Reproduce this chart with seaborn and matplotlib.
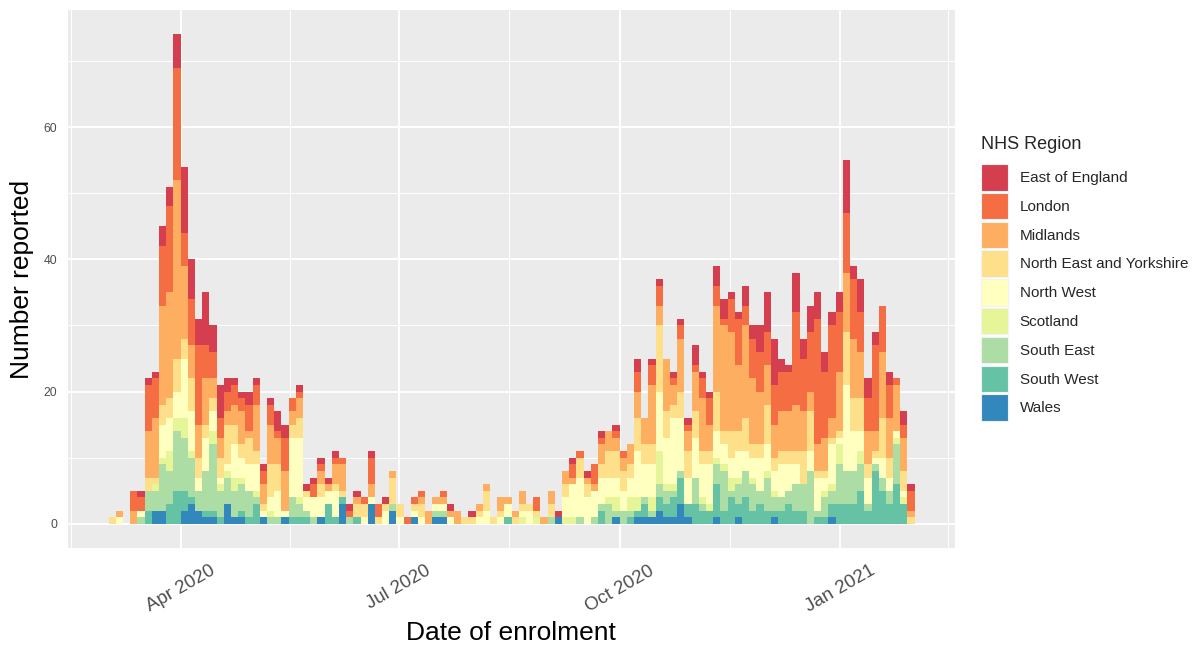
import datetime as dt

import matplotlib
matplotlib.use("Agg")
import matplotlib.dates as mdates
import matplotlib.pyplot as plt
from matplotlib.patches import Patch
import numpy as np
import pandas as pd
import seaborn as sns

REGIONS = ["East of England", "London", "Midlands", "North East and Yorkshire",
           "North West", "Scotland", "South East", "South West", "Wales"]
COLORS = ["#D53E4F", "#F46D43", "#FDAE61", "#FEE08B", "#FFFFBF",
          "#E6F598", "#ABDDA4", "#66C2A5", "#3288BD"]

FIRST_BIN = dt.date(2020, 3, 2)
BIN_DAYS = 3
MAJOR_DATES = [dt.date(2020, 4, 1), dt.date(2020, 7, 1),
               dt.date(2020, 10, 1), dt.date(2021, 1, 1)]

# enrolments per 3-day bin (112 bins)
east_of_england = [
    0, 0, 0, 0, 1, 1, 1, 3, 3, 5,
    10, 6, 4, 8, 4, 5, 2, 1, 1, 2,
    1, 1, 1, 3, 2, 0, 1, 1, 1, 1,
    1, 1, 0, 1, 1, 0, 1, 0, 1, 0,
    0, 0, 0, 0, 0, 0, 0, 1, 0, 0,
    1, 0, 0, 0, 0, 0, 0, 0, 0, 0,
    0, 0, 1, 0, 1, 0, 1, 0, 1, 0,
    1, 0, 0, 2, 0, 1, 1, 0, 1, 1,
    1, 3, 1, 1, 3, 3, 1, 1, 3, 2,
    4, 6, 7, 2, 1, 6, 3, 4, 4, 3,
    2, 3, 8, 2, 5, 3, 2, 0, 2, 0,
    2, 1]
london = [
    0, 0, 0, 3, 2, 7, 6, 9, 13, 17,
    5, 7, 12, 5, 4, 3, 3, 3, 2, 4,
    3, 2, 3, 1, 5, 2, 1, 0, 2, 1,
    0, 1, 1, 1, 0, 1, 4, 2, 0, 0,
    0, 1, 1, 1, 0, 0, 1, 0, 0, 0,
    0, 0, 0, 0, 0, 0, 0, 0, 0, 2,
    0, 0, 0, 0, 2, 1, 0, 3, 1, 0,
    1, 1, 0, 3, 0, 3, 3, 0, 1, 2,
    1, 1, 3, 4, 3, 1, 5, 7, 3, 6,
    6, 5, 6, 6, 6, 14, 8, 9, 19, 10,
    14, 9, 9, 9, 6, 5, 13, 7, 5, 1,
    2, 3]
midlands = [
    0, 1, 0, 2, 0, 7, 9, 15, 16, 27,
    11, 5, 5, 7, 3, 3, 2, 3, 5, 1,
    7, 3, 6, 4, 6, 2, 3, 0, 0, 2,
    1, 3, 4, 0, 1, 0, 2, 0, 0, 1,
    0, 0, 0, 1, 2, 1, 1, 1, 2, 0,
    0, 1, 1, 0, 2, 1, 1, 2, 0, 0,
    1, 2, 0, 2, 1, 0, 1, 1, 3, 3,
    2, 2, 3, 4, 4, 9, 3, 8, 3, 8,
    3, 6, 8, 4, 13, 16, 15, 10, 14, 10,
    8, 6, 5, 6, 6, 7, 6, 3, 4, 5,
    3, 9, 9, 9, 7, 5, 3, 10, 6, 7,
    5, 1]
north_east_yorkshire = [
    1, 0, 0, 0, 0, 2, 1, 3, 3, 5,
    3, 5, 3, 2, 2, 3, 6, 3, 2, 4,
    2, 1, 5, 4, 0, 2, 3, 1, 0, 2,
    0, 1, 1, 0, 2, 2, 0, 1, 1, 4,
    2, 0, 1, 2, 0, 0, 0, 0, 0, 1,
    1, 1, 3, 1, 1, 0, 1, 1, 1, 1,
    0, 2, 0, 2, 0, 3, 2, 0, 2, 4,
    4, 3, 2, 5, 3, 3, 10, 4, 2, 4,
    4, 4, 2, 2, 6, 2, 4, 3, 5, 2,
    2, 6, 2, 2, 2, 2, 5, 6, 1, 1,
    1, 1, 8, 5, 5, 2, 1, 6, 3, 0,
    3, 1]
north_west = [
    0, 1, 0, 0, 1, 0, 0, 5, 5, 4,
    9, 6, 2, 5, 3, 1, 1, 5, 3, 4,
    4, 1, 2, 4, 1, 9, 9, 2, 3, 3,
    2, 4, 0, 0, 0, 1, 1, 0, 2, 0,
    1, 0, 1, 1, 0, 1, 1, 1, 0, 0,
    0, 1, 2, 0, 1, 2, 0, 1, 2, 0,
    0, 0, 0, 3, 5, 6, 4, 4, 4, 3,
    3, 3, 3, 7, 5, 5, 9, 7, 10, 8,
    4, 6, 5, 6, 4, 3, 3, 4, 3, 3,
    5, 4, 3, 5, 4, 3, 0, 3, 5, 2,
    6, 1, 13, 6, 3, 4, 1, 3, 2, 1,
    1, 0]
scotland = [
    0, 0, 0, 0, 0, 0, 1, 1, 3, 2,
    3, 1, 0, 0, 2, 1, 1, 2, 1, 0,
    1, 0, 1, 0, 0, 0, 1, 0, 0, 0,
    0, 0, 0, 0, 0, 0, 0, 0, 0, 0,
    0, 0, 0, 0, 0, 0, 0, 0, 0, 0,
    0, 0, 0, 0, 0, 0, 0, 1, 0, 1,
    0, 0, 0, 1, 1, 0, 0, 0, 0, 1,
    2, 0, 2, 2, 0, 2, 5, 1, 1, 0,
    0, 0, 1, 1, 1, 1, 2, 1, 0, 1,
    0, 1, 1, 0, 0, 0, 0, 0, 0, 1,
    1, 3, 0, 0, 2, 0, 0, 0, 0, 1,
    1, 0]
south_east = [
    0, 0, 0, 0, 1, 3, 3, 7, 5, 9,
    8, 6, 3, 6, 10, 4, 4, 4, 4, 4,
    1, 0, 1, 1, 0, 3, 2, 1, 1, 0,
    0, 0, 0, 1, 0, 0, 0, 0, 0, 1,
    0, 0, 0, 0, 0, 1, 1, 0, 0, 0,
    0, 0, 0, 0, 0, 0, 0, 0, 0, 0,
    0, 1, 0, 0, 0, 1, 0, 1, 1, 3,
    1, 2, 1, 0, 1, 1, 2, 2, 1, 1,
    0, 4, 1, 0, 3, 6, 1, 3, 4, 4,
    2, 5, 2, 2, 2, 4, 4, 8, 1, 3,
    2, 6, 5, 5, 4, 1, 1, 2, 2, 6,
    0, 0]
south_west = [
    0, 0, 0, 0, 0, 2, 0, 0, 3, 5,
    3, 1, 0, 1, 1, 1, 0, 0, 1, 1,
    3, 0, 0, 0, 0, 1, 1, 1, 0, 0,
    3, 1, 1, 0, 1, 0, 0, 0, 0, 0,
    0, 0, 0, 0, 0, 0, 0, 0, 0, 0,
    0, 0, 0, 0, 0, 1, 0, 0, 0, 0,
    0, 0, 0, 0, 0, 0, 0, 0, 2, 0,
    0, 0, 1, 1, 2, 0, 2, 2, 3, 4,
    2, 3, 2, 2, 5, 2, 4, 2, 4, 2,
    3, 2, 1, 2, 3, 2, 2, 0, 1, 1,
    2, 3, 3, 3, 5, 2, 8, 5, 3, 6,
    3, 0]
wales = [
    0, 0, 0, 0, 0, 0, 2, 2, 0, 0,
    2, 3, 2, 1, 1, 0, 3, 1, 1, 0,
    0, 1, 0, 0, 1, 0, 0, 0, 0, 1,
    0, 0, 3, 0, 0, 0, 3, 0, 0, 2,
    0, 0, 1, 0, 0, 1, 1, 0, 0, 0,
    0, 0, 0, 0, 0, 0, 0, 0, 0, 0,
    0, 0, 1, 0, 0, 0, 0, 0, 0, 0,
    1, 0, 0, 1, 1, 1, 2, 1, 1, 3,
    1, 0, 0, 0, 1, 0, 0, 1, 0, 0,
    0, 0, 1, 0, 0, 0, 0, 0, 0, 0,
    1, 0, 0, 0, 0, 0, 0, 0, 0, 0,
    0, 0]

series = [east_of_england, london, midlands, north_east_yorkshire, north_west,
          scotland, south_east, south_west, wales]

n_bins = len(wales)
start = mdates.date2num(FIRST_BIN)
stop = start + BIN_DAYS * n_bins
centers = start + BIN_DAYS * np.arange(n_bins) + BIN_DAYS / 2

counts = pd.concat(
    [pd.DataFrame({"date": centers, "region": r, "n": v}) for r, v in zip(REGIONS, series)],
    ignore_index=True)

sns.set_style("darkgrid", {"axes.facecolor": "#EBEBEB", "grid.color": "white"})
plt.rcParams["font.family"] = ["Liberation Sans", "DejaVu Sans"]

W, H = 1197, 646
fig = plt.figure(figsize=(W / 100, H / 100), dpi=100)
ax = fig.add_axes([68.3 / W, 1 - 548.3 / H, (955 - 68.3) / W, (548.3 - 10) / H])

sns.histplot(data=counts, x="date", weights="n", hue="region", hue_order=REGIONS,
             palette=COLORS, multiple="stack", binwidth=BIN_DAYS,
             binrange=(start, stop), alpha=1, linewidth=0, legend=False, ax=ax)

# ggplot-style 5% expansion on both axes
span = stop - start
ax.set_xlim(start - 0.05 * span, stop + 0.05 * span)
ax.set_ylim(-3.7, 77.7)

majors = mdates.date2num(MAJOR_DATES)
outer = mdates.date2num([dt.date(2020, 1, 1), dt.date(2021, 4, 1)])
all_major = np.concatenate([[outer[0]], majors, [outer[1]]])
ax.set_xticks(majors)
ax.set_xticks((all_major[:-1] + all_major[1:]) / 2, minor=True)
ax.xaxis.set_major_formatter(mdates.DateFormatter("%b %Y"))
ax.set_yticks([0, 20, 40, 60])
ax.set_yticks([10, 30, 50, 70], minor=True)

ax.grid(which="major", color="white", linewidth=1.4)
ax.grid(which="minor", color="white", linewidth=0.7)
ax.set_axisbelow(True)
for s in ax.spines.values():
    s.set_visible(False)

ax.tick_params(which="major", length=3.6, width=0.8, color="#333333",
               labelcolor="#4D4D4D")
ax.tick_params(which="minor", length=0)
ax.tick_params(axis="y", labelsize=8.8, pad=4.5)
ax.tick_params(axis="x", labelsize=13.5, pad=6.5)
for lab in ax.get_xticklabels():
    lab.set_rotation(30)
    lab.set_ha("center")
    lab.set_va("top")

ax.set_xlabel("")
ax.set_ylabel("")
fig.text(511 / W, 1 - 640 / H, "Date of enrolment", ha="center", va="baseline",
         fontsize=19, color="black")
fig.text(22 / W, 1 - 279 / H, "Number reported", ha="center", va="center",
         rotation=90, fontsize=19, color="black")

handles = [Patch(facecolor=c, edgecolor="#F2F2F2", linewidth=0.8) for c in COLORS]
leg = ax.legend(handles, REGIONS, title="NHS Region", loc="upper left",
                bbox_to_anchor=(981 / W, 1 - 136 / H), bbox_transform=fig.transFigure,
                frameon=False, fontsize=11, title_fontsize=13, handlelength=1.77,
                handleheight=2.29, labelspacing=0.15, handletextpad=0.75,
                borderpad=0, borderaxespad=0, alignment="left")
# a bit more room between the legend title and the first key
leg._legend_box.sep = 8

fig.savefig("out.png", dpi=100)
